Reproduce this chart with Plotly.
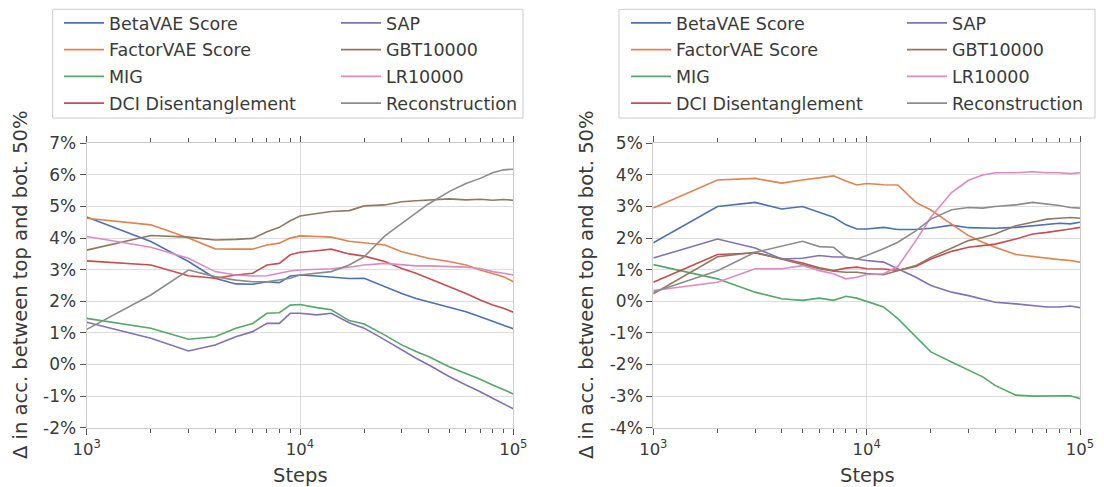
import plotly.graph_objects as go

steps = [1000, 2000, 3000, 4000, 5000, 6000, 7000, 8000, 9000, 10000, 12000, 14000, 17000,
         20000, 25000, 30000, 35000, 40000, 50000, 60000, 70000, 80000, 90000, 100000]

series_names = ["BetaVAE Score", "FactorVAE Score", "MIG", "DCI Disentanglement",
                "SAP", "GBT10000", "LR10000", "Reconstruction"]

left_beta = [4.67, 3.89, 3.26, 2.73, 2.55, 2.54, 2.62, 2.59, 2.80, 2.83, 2.80, 2.76, 2.72, 2.73, 2.46, 2.25, 2.09, 1.99, 1.83, 1.67, 1.51, 1.36, 1.25, 1.13]
left_factor = [4.63, 4.42, 4.00, 3.66, 3.65, 3.65, 3.78, 3.84, 4.00, 4.07, 4.05, 4.03, 3.90, 3.84, 3.78, 3.57, 3.47, 3.36, 3.26, 3.15, 2.99, 2.89, 2.78, 2.62]
left_mig = [1.46, 1.15, 0.80, 0.88, 1.15, 1.30, 1.62, 1.64, 1.88, 1.90, 1.80, 1.73, 1.39, 1.28, 0.93, 0.62, 0.41, 0.25, -0.07, -0.28, -0.47, -0.65, -0.81, -0.93]
left_dci = [3.28, 3.15, 2.81, 2.73, 2.83, 2.89, 3.15, 3.20, 3.47, 3.55, 3.60, 3.65, 3.50, 3.43, 3.26, 3.04, 2.89, 2.73, 2.46, 2.25, 2.04, 1.88, 1.78, 1.65]
left_sap = [1.34, 0.83, 0.43, 0.62, 0.88, 1.04, 1.30, 1.30, 1.62, 1.62, 1.57, 1.62, 1.32, 1.15, 0.78, 0.46, 0.20, -0.01, -0.38, -0.65, -0.86, -1.07, -1.25, -1.40]
left_gbt = [3.62, 4.08, 4.03, 3.94, 3.96, 3.99, 4.20, 4.34, 4.55, 4.70, 4.78, 4.84, 4.87, 5.02, 5.05, 5.15, 5.18, 5.21, 5.24, 5.21, 5.23, 5.20, 5.22, 5.20]
left_lr = [4.05, 3.71, 3.36, 2.94, 2.83, 2.80, 2.81, 2.89, 2.96, 2.99, 3.01, 3.03, 3.08, 3.15, 3.20, 3.15, 3.12, 3.12, 3.10, 3.08, 3.04, 2.94, 2.89, 2.83]
left_recon = [1.11, 2.20, 2.99, 2.78, 2.67, 2.62, 2.62, 2.67, 2.73, 2.83, 2.88, 2.94, 3.15, 3.41, 4.07, 4.47, 4.78, 5.08, 5.47, 5.73, 5.89, 6.07, 6.16, 6.18]

right_beta = [1.85, 3.00, 3.13, 2.92, 3.00, 2.81, 2.66, 2.42, 2.29, 2.29, 2.34, 2.27, 2.27, 2.31, 2.41, 2.33, 2.31, 2.31, 2.34, 2.39, 2.42, 2.47, 2.45, 2.50]
right_factor = [2.95, 3.84, 3.89, 3.74, 3.84, 3.92, 3.97, 3.81, 3.68, 3.73, 3.69, 3.68, 3.13, 2.89, 2.44, 2.08, 1.87, 1.71, 1.48, 1.41, 1.37, 1.32, 1.29, 1.24]
right_mig = [1.16, 0.71, 0.29, 0.08, 0.03, 0.10, 0.03, 0.16, 0.10, 0.00, -0.18, -0.55, -1.13, -1.60, -1.92, -2.18, -2.39, -2.66, -2.97, -3.00, -2.99, -3.00, -2.99, -3.08]
right_dci = [0.60, 1.48, 1.53, 1.34, 1.21, 1.06, 0.97, 1.05, 1.08, 1.03, 1.02, 0.98, 1.10, 1.34, 1.58, 1.71, 1.76, 1.81, 1.97, 2.13, 2.18, 2.23, 2.29, 2.34]
right_sap = [1.37, 1.97, 1.69, 1.34, 1.36, 1.45, 1.40, 1.40, 1.34, 1.29, 1.24, 1.03, 0.76, 0.50, 0.29, 0.18, 0.08, -0.03, -0.08, -0.13, -0.18, -0.18, -0.15, -0.20]
right_gbt = [0.24, 1.41, 1.55, 1.34, 1.18, 1.03, 0.95, 0.92, 0.92, 0.88, 0.84, 0.97, 1.13, 1.39, 1.69, 1.92, 2.02, 2.13, 2.39, 2.50, 2.60, 2.63, 2.65, 2.63]
right_lr = [0.34, 0.60, 1.03, 1.03, 1.13, 0.97, 0.87, 0.71, 0.76, 0.85, 0.87, 1.10, 1.92, 2.66, 3.44, 3.83, 4.00, 4.07, 4.07, 4.10, 4.07, 4.07, 4.04, 4.07]
right_recon = [0.29, 0.97, 1.55, 1.76, 1.90, 1.73, 1.71, 1.39, 1.34, 1.45, 1.66, 1.87, 2.23, 2.60, 2.90, 2.97, 2.95, 3.00, 3.05, 3.13, 3.08, 3.03, 2.97, 2.95]

left_ticks = [-2, -1, 0, 1, 2, 3, 4, 5, 6, 7]
right_ticks = [-4, -3, -2, -1, 0, 1, 2, 3, 4, 5]
x_ticks = [1000, 10000, 100000]
x_ticklabels = ["10<sup>3</sup>", "10<sup>4</sup>", "10<sup>5</sup>"]
minor_ticks = [m * 10 ** e for e in (3, 4) for m in range(2, 10)]

colors = ["#4C72B0", "#DD8452", "#55A868", "#C44E52", "#8172B3", "#937860", "#DA8BC3", "#8C8C8C"]

left = [left_beta, left_factor, left_mig, left_dci, left_sap, left_gbt, left_lr, left_recon]
right = [right_beta, right_factor, right_mig, right_dci, right_sap, right_gbt, right_lr, right_recon]

W, H = 1104, 487
TXT = "#3a3a3a"

fig = go.Figure()
for panel, data, xa, ya in [(0, left, "x", "y"), (1, right, "x2", "y2")]:
    for i in range(8):
        lg_idx = panel * 2 + (0 if i < 4 else 1)
        lg = "legend" if lg_idx == 0 else f"legend{lg_idx + 1}"
        fig.add_trace(go.Scatter(
            x=steps, y=data[i], mode="lines", name=series_names[i],
            line=dict(color=colors[i], width=1.6),
            xaxis=xa, yaxis=ya, legend=lg, legendgroup=f"p{panel}s{i}", showlegend=True,
        ))

grid = "#dddddd"
frame = "#cccccc"

def xaxis(domain, anchor):
    return dict(
        domain=domain, anchor=anchor, type="log", range=[3, 5], automargin=False,
        tickvals=x_ticks, ticktext=x_ticklabels,
        ticks="outside", ticklen=6, tickwidth=1, tickcolor="#555",
        minor=dict(tickvals=minor_ticks, ticks="outside", ticklen=4, tickwidth=1, tickcolor="#555", showgrid=False),
        showgrid=True, gridcolor=grid, gridwidth=1.2,
        showline=True, linecolor=frame, linewidth=1.2, mirror="ticks",
        zeroline=False, tickfont=dict(size=16.5, color=TXT),
    )

def yaxis(domain, anchor, ticks):
    return dict(
        domain=domain, anchor=anchor, range=[ticks[0], ticks[-1]], automargin=False,
        tickvals=ticks, ticktext=[f"{t}%" for t in ticks],
        ticks="outside", ticklen=6, tickwidth=1, tickcolor="#555",
        showgrid=True, gridcolor=grid, gridwidth=1.2,
        showline=True, linecolor=frame, linewidth=1.2, mirror=True,
        zeroline=False, tickfont=dict(size=17, color=TXT),
    )

def legend_at(xpx):
    return dict(orientation="v", x=xpx / W, y=1 - 5 / H, xanchor="left", yanchor="top",
                bgcolor="rgba(0,0,0,0)", borderwidth=0, font=dict(size=17.5, color=TXT),
                traceorder="grouped", tracegroupgap=1, itemwidth=40)

ydom = [1 - 427.7 / H, 1 - 143.3 / H]
fig.update_layout(
    width=W, height=H, margin=dict(l=0, r=0, t=0, b=0, pad=0, autoexpand=False),
    paper_bgcolor="white", plot_bgcolor="white", font=dict(family="DejaVu Sans", size=16, color=TXT),
    xaxis=xaxis([86.7 / W, 513.3 / W], "y"),
    yaxis=yaxis(ydom, "x", left_ticks),
    xaxis2=xaxis([653.3 / W, 1080 / W], "y2"),
    yaxis2=yaxis(ydom, "x2", right_ticks),
    legend=legend_at(59),
    legend2=legend_at(336),
    legend3=legend_at(626),
    legend4=legend_at(902),
    showlegend=True,
)

for x0, x1 in ((52.7, 523), (619, 1095)):
    fig.add_shape(type="rect", xref="paper", yref="paper", x0=x0 / W, x1=x1 / W,
                  y0=1 - 118 / H, y1=1 - 9.3 / H, line=dict(color=frame, width=1), layer="below")

ytitle = "Δ in acc. between top and bot. 50%"
for xc in (20, 586):
    fig.add_annotation(text=ytitle, x=xc / W, y=1 - 285 / H, xref="paper", yref="paper",
                       textangle=-90, showarrow=False, font=dict(size=19.5, color=TXT),
                       xanchor="center", yanchor="middle")
for xc in (300, 867):
    fig.add_annotation(text="Steps", x=xc / W, y=1 - 475 / H, xref="paper", yref="paper",
                       showarrow=False, font=dict(size=19.5, color=TXT),
                       xanchor="center", yanchor="middle")

fig.write_html("out.html")
